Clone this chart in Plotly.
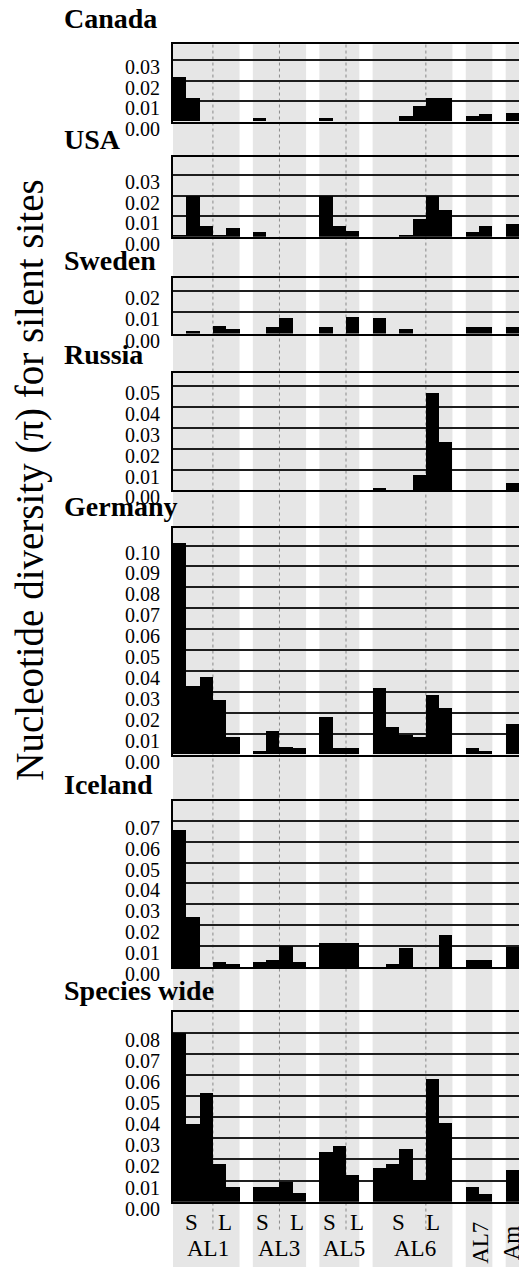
import plotly.graph_objects as go

W, H = 519, 1285

# ---------------- data ----------------
panel_names = ["Canada", "USA", "Sweden", "Russia", "Germany", "Iceland", "Species wide"]
group_names = ["AL1", "AL3", "AL5", "AL6", "AL7", "Am"]
group_sizes = [5, 4, 3, 6, 2, 1]
s_counts = [3, 2, 2, 4]          # number of S bars in AL1, AL3, AL5, AL6
sl_labels = ["S", "L"]

canada  = [0.0216, 0.0115, 0, 0, 0,  0.0016, 0, 0, 0,  0.0016, 0, 0,
           0, 0, 0.0023, 0.0074, 0.0115, 0.0115,  0.0023, 0.0034,  0.0042]
usa     = [0.001, 0.020, 0.005, 0.001, 0.0044,  0.002, 0, 0, 0,  0.020, 0.005, 0.0025,
           0, 0, 0.001, 0.0084, 0.020, 0.013,  0.0024, 0.005,  0.006]
sweden  = [0, 0.0015, 0, 0.0038, 0.0023,  0, 0.003, 0.0072, 0,  0.003, 0, 0.008,
           0.0072, 0, 0.0023, 0, 0, 0,  0.003, 0.003,  0.003]
russia  = [0, 0, 0, 0, 0,  0, 0, 0, 0,  0, 0, 0,
           0.001, 0, 0, 0.0074, 0.0468, 0.0232,  0, 0,  0.0035]
germany = [0.1008, 0.0328, 0.0369, 0.0262, 0.0082,  0.0019, 0.011, 0.0038, 0.003,
           0.0179, 0.003, 0.003,  0.0319, 0.0129, 0.0093, 0.0082, 0.0286, 0.022,
           0.003, 0.0019,  0.0144]
iceland = [0.0653, 0.0237, 0, 0.0024, 0.0013,  0.0024, 0.0031, 0.0102, 0.0024,
           0.0115, 0.0115, 0.0115,  0, 0.0013, 0.0091, 0, 0, 0.0154,
           0.0031, 0.0031,  0.0094]
species = [0.080, 0.0368, 0.0516, 0.0178, 0.0072,  0.007, 0.007, 0.0095, 0.0045,
           0.0236, 0.0267, 0.0129,  0.0161, 0.0178, 0.0251, 0.0103, 0.0582, 0.0376,
           0.0072, 0.004,  0.0153]
series = [canada, usa, sweden, russia, germany, iceland, species]
max_ticks = [0.03, 0.03, 0.02, 0.05, 0.10, 0.07, 0.08]

# ---------------- layout geometry (pixels) ----------------
panel_px = [(45, 123.3), (159.3, 240), (281.7, 338.3), (378.3, 497.3),
            (536, 765.7), (812.7, 981), (1026, 1218.7)]
px_per_001 = [20.8, 20.77, 21.65, 21.12, 21.24, 21.24, 21.37]
title_y_px = [19, 141.5, 264, 359.5, 514, 795.5, 1004.5]
X0 = 173
NSLOT = 26
slot_w = (W - X0) / NSLOT

def py(p):
    return 1 - p / H

def sx(px):
    return (px - X0) / slot_w

# slot positions from the group structure
slots, starts = [], []
pos = 0
for n in group_sizes:
    starts.append(pos)
    slots.extend(range(pos, pos + n))
    pos += n + 1
centers = [s + 0.5 for s in slots]

FONT = "Liberation Serif"
fig = go.Figure()
layout = dict(width=W, height=H, margin=dict(l=0, r=0, t=0, b=0),
              paper_bgcolor="white", plot_bgcolor="rgba(0,0,0,0)",
              showlegend=False, bargap=0,
              font=dict(family=FONT, color="black"))

for i, (name, vals) in enumerate(zip(panel_names, series)):
    k = "" if i == 0 else str(i + 1)
    top, bot = panel_px[i]
    ymax = (bot - top) / px_per_001[i] * 0.01
    fig.add_trace(go.Bar(x=centers, y=vals, width=1, xaxis="x" + k, yaxis="y" + k,
                         marker=dict(color="black", line=dict(width=0))))
    nt = int(round(max_ticks[i] / 0.01))
    tv = [j * 0.01 for j in range(nt + 1)]
    layout["xaxis" + k] = dict(domain=[X0 / W, 1], range=[0, NSLOT], anchor="y" + k,
                               showticklabels=False, showgrid=False, zeroline=False,
                               showline=True, linecolor="black", linewidth=2, mirror=True,
                               ticks="", fixedrange=True)
    layout["yaxis" + k] = dict(domain=[py(bot), py(top)], range=[0, ymax], anchor="x" + k,
                               tickvals=tv, ticktext=["%.2f" % v for v in tv],
                               showgrid=True, gridcolor="#1e1e1e", gridwidth=1.5,
                               zeroline=False, showline=True, linecolor="black",
                               linewidth=2, ticks="", ticklabelstandoff=7,
                               ticklabelshift=7, fixedrange=True,
                               tickfont=dict(family=FONT, size=20, color="black"))

shapes = []
# grey bands
for g, (st, n) in enumerate(zip(starts, group_sizes)):
    x1 = st + n if g < len(group_sizes) - 1 else NSLOT + 1
    shapes.append(dict(type="rect", xref="x", yref="paper", x0=st, x1=x1,
                       y0=0, y1=py(45), fillcolor="#e6e6e6", line=dict(width=0),
                       layer="below"))
# dotted S / L dividers
for st, ns in zip(starts, s_counts):
    shapes.append(dict(type="line", xref="x", yref="paper", x0=st + ns, x1=st + ns,
                       y0=py(1247), y1=py(45), line=dict(color="#8a8a8a", width=1, dash="dot"),
                       layer="below"))
layout["shapes"] = shapes

ann = []
for i, name in enumerate(panel_names):
    ann.append(dict(text="<b>%s</b>" % name, xref="paper", yref="paper", x=62 / W,
                    y=py(title_y_px[i]), xanchor="left", yanchor="middle", showarrow=False,
                    font=dict(family=FONT, size=28, color="black")))
ann.append(dict(text="Nucleotide diversity (π) for silent sites", xref="paper", yref="paper",
                x=30 / W, y=py(487.5), textangle=-90, xanchor="center", yanchor="middle",
                showarrow=False, font=dict(family=FONT, size=39, color="black")))

sl_px = [191.7, 225, 262, 296.7, 329, 356.7, 398.3, 433]
for j, p in enumerate(sl_px):
    ann.append(dict(text=sl_labels[j % 2], xref="x7", yref="paper", x=sx(p), y=py(1240),
                    xanchor="center", yanchor="middle", showarrow=False,
                    font=dict(family=FONT, size=23, color="black")))
grp_px = [207.5, 279, 344, 415, 480.5, 511]
for j, p in enumerate(grp_px):
    rot = group_names[j] in ("AL7", "Am")
    ann.append(dict(text=group_names[j], xref="x7", yref="paper", x=sx(p),
                    y=py(1261 if rot else 1266), xanchor="center", yanchor="middle",
                    textangle=-90 if rot else 0, showarrow=False,
                    font=dict(family=FONT, size=23, color="black")))
layout["annotations"] = ann

fig.update_layout(**layout)
fig.write_html("out.html", config={"displayModeBar": False},
               post_script="document.body.style.margin='0';document.body.style.overflow='hidden';")
